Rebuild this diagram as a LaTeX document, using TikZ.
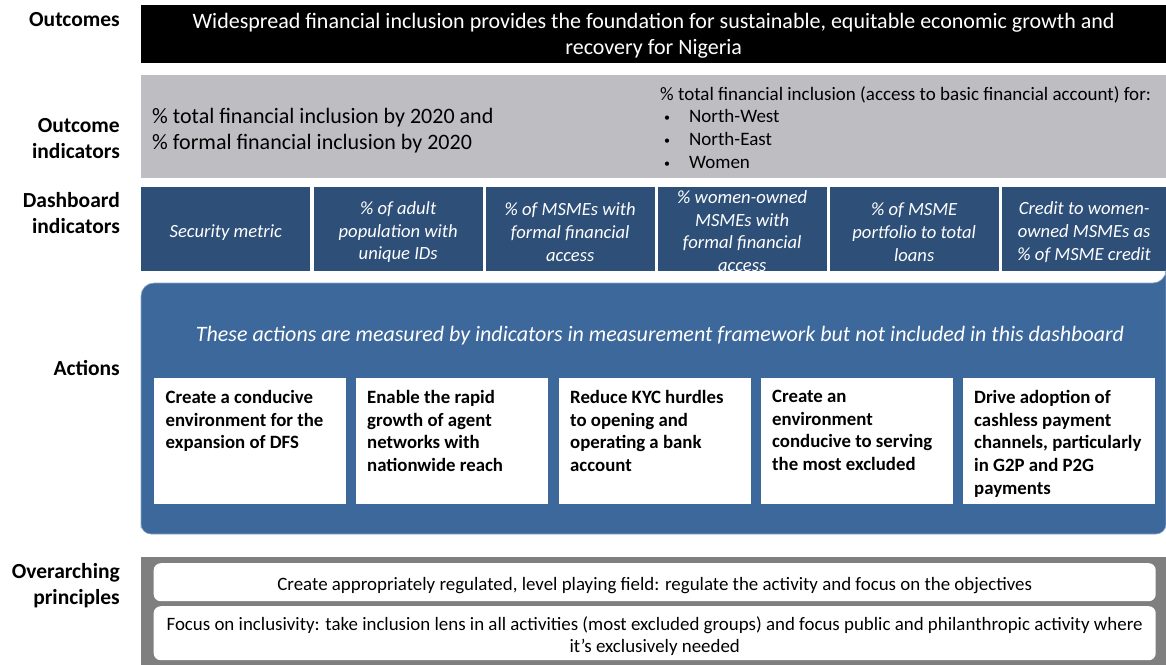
\documentclass[tikz,border=0pt]{standalone}
\usepackage{fontspec}
\setmainfont{Carlito}
\definecolor{ogray}{RGB}{190,189,194}
\definecolor{dblue}{RGB}{46,79,120}
\definecolor{ablue}{RGB}{61,104,156}
\definecolor{pgray}{RGB}{127,127,127}
\newcommand{\smbullet}{\hspace*{4pt}\makebox[25pt][l]{\raisebox{1pt}{\fontsize{12}{12}\selectfont •}}}
\begin{document}
\begin{tikzpicture}[x=1pt,y=-1pt,
  rowlabel/.style={font=\fontsize{21.5}{26}\selectfont\bfseries, align=right, anchor=east, inner sep=0},
  dbox/.style={fill=dblue, minimum width=169, minimum height=84, inner sep=0, anchor=north west},
  dtext/.style={text=white, inner sep=0, align=center, font=\fontsize{18.6}{22.8}\selectfont\itshape},
  abox/.style={fill=white, minimum width=192, minimum height=126, inner sep=0, anchor=north west},
  atext/.style={font=\fontsize{18.8}{22.7}\selectfont\bfseries, align=left, anchor=north west, inner sep=0},
  pbox/.style={fill=white, rounded corners=7, minimum width=1002, inner sep=0, anchor=north west},
  ptext/.style={inner sep=0, align=center, font=\fontsize{18.9}{22}\selectfont}]
\useasboundingbox (0,0) rectangle (1166,664);
% row labels
\node[rowlabel] (l1) at (120,20) {Outcomes};
\node[rowlabel] (l2) at (120,139) {Outcome\\indicators};
\node[rowlabel] (l3) at (120,213) {Dashboard\\indicators};
\node[rowlabel] (l4) at (120,368) {Actions};
\node[rowlabel] (l5) at (120,586) {Overarching\\principles};
% outcomes
\node[fill=black, minimum width=1025, minimum height=58, inner sep=0, anchor=north west] (outbox) at (141,5) {};
\node[text=white, align=center, inner sep=0, font=\fontsize{22}{26}\selectfont] (outtext) at ([yshift=-2]outbox.center) {Widespread financial inclusion provides the foundation for sustainable, equitable economic growth and\\recovery for Nigeria};
% outcome indicators
\node[fill=ogray, minimum width=1025, minimum height=103, inner sep=0, anchor=north west] (oibox) at (141,75) {};
\node[anchor=west, align=left, inner sep=0, font=\fontsize{22}{26}\selectfont] (oileft) at (152,131) {\% total financial inclusion by 2020 and\\\% formal financial inclusion by 2020};
\node[anchor=north west, align=left, inner sep=0, font=\fontsize{19}{22.7}\selectfont] (oiright) at (660,86) {\% total financial inclusion (access to basic financial account) for:\\
\smbullet North-West\\
\smbullet North-East\\
\smbullet Women};
% dashboard indicators
\node[dbox] (d1) at (141,187) {};
\node[dbox] (d2) at (313.5,187) {};
\node[dbox] (d3) at (485.5,187) {};
\node[dbox] (d4) at (657.5,187) {};
\node[dbox] (d5) at (829.5,187) {};
\node[dbox, minimum width=165] (d6) at (1001.5,187) {};
\node[dtext] (d1t) at ([yshift=-3]d1.center) {Security metric};
\node[dtext] (d2t) at ([yshift=-3]d2.center) {\% of adult\\population with\\unique IDs};
\node[dtext] (d3t) at ([yshift=-3]d3.center) {\% of MSMEs with\\formal financial\\access};
\node[dtext] (d4t) at ([yshift=-2]d4.center) {\% women-owned\\MSMEs with\\formal financial\\access};
\node[dtext] (d5t) at ([yshift=-3]d5.center) {\% of MSME\\portfolio to total\\loans};
\node[dtext] (d6t) at ([yshift=-3]d6.center) {Credit to women-\\owned MSMEs as\\\% of MSME credit};
% actions
\path[fill=ablue, draw=ablue!60!white, line width=0.6] (141,534) -- (141,296) [rounded corners=13] -- (141,283) -- (1166,283) [sharp corners] -- (1166,283) [rounded corners=10] -- (1166,534) -- (141,534) -- cycle;
\node[text=white, inner sep=0, font=\fontsize{22}{26}\selectfont\itshape] (ahead) at (660,336) {These actions are measured by indicators in measurement framework but not included in this dashboard};
\node[abox] (a1) at (153.5,378) {};
\node[abox] (a2) at (356,378) {};
\node[abox] (a3) at (559,378) {};
\node[abox] (a4) at (761,378) {};
\node[abox] (a5) at (963,378) {};
\node[atext] (t1) at ([xshift=12,yshift=-12]a1.north west) {Create a conducive\\environment for the\\expansion of DFS};
\node[atext] (t2) at ([xshift=11,yshift=-12]a2.north west) {Enable the rapid\\growth of agent\\networks with\\nationwide reach};
\node[atext] (t3) at ([xshift=11,yshift=-12]a3.north west) {Reduce KYC hurdles\\to opening and\\operating a bank\\account};
\node[atext] (t4) at ([xshift=11,yshift=-12]a4.north west) {Create an\\environment\\conducive to serving\\the most excluded};
\node[atext] (t5) at ([xshift=11,yshift=-12]a5.north west) {Drive adoption of\\cashless payment\\channels, particularly\\in G2P and P2G\\payments};
% overarching principles
\node[fill=pgray, minimum width=1025, minimum height=108, inner sep=0, anchor=north west] (pbg) at (141,557) {};
\node[pbox, minimum height=38] (p1) at (153.5,563) {};
\node[pbox, minimum height=54] (p2) at (153.5,606) {};
\node[ptext] (p1t) at ([yshift=-3]p1.center) {Create appropriately regulated, level playing field: regulate the activity and focus on the objectives};
\node[ptext] (p2t) at ([yshift=-3]p2.center) {Focus on inclusivity: take inclusion lens in all activities (most excluded groups) and focus public and philanthropic activity where\\it’s exclusively needed};
\end{tikzpicture}
\end{document}
